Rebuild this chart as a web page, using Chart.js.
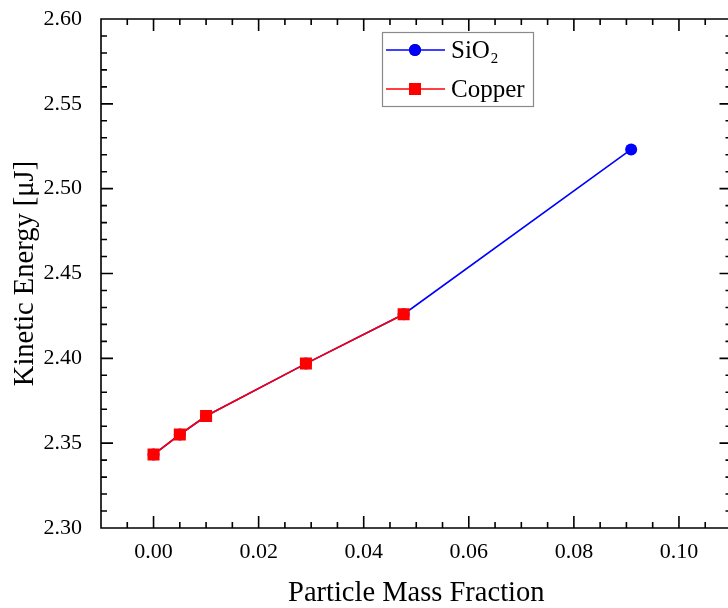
<!DOCTYPE html>
<html>
<head>
<meta charset="utf-8">
<script src="https://cdn.jsdelivr.net/npm/chart.js@4"></script>
<style>
  html, body { margin: 0; padding: 0; background: #fff; overflow: hidden; }
  #wrap { width: 740px; height: 608px; }
</style>
</head>
<body>
<div id="wrap"><canvas id="c" width="740" height="608"></canvas></div>
<script>
// ---- Data ----
const sio2X = [0, 0.005, 0.01, 0.029, 0.0476, 0.0909];
const sio2Y = [2.3433, 2.3551, 2.3660, 2.3969, 2.4260, 2.5231];
const copperX = [0, 0.005, 0.01, 0.029, 0.0476];
const copperY = [2.3433, 2.3551, 2.3660, 2.3969, 2.4260];
const seriesNames = ['SiO\u2082', 'Copper'];
const xTickValues = [0, 0.02, 0.04, 0.06, 0.08, 0.10];
const yTickValues = [2.30, 2.35, 2.40, 2.45, 2.50, 2.55, 2.60];
const xTitle = 'Particle Mass Fraction';
const yTitle = 'Kinetic Energy [\u03bcJ]';

const SERIF = '"Liberation Serif", "Times New Roman", serif';
const BLUE = '#0000ff';
const RED = '#ff0000';

function pts(xs, ys) { return xs.map((x, i) => ({ x: x, y: ys[i] })); }

// Frame, inward ticks (major + minor) on all four sides
const framePlugin = {
  id: 'frame',
  afterDatasetsDraw(chart) {
    const { ctx, chartArea: a, scales } = chart;
    const xs = scales.x, ys = scales.y;
    ctx.save();
    ctx.strokeStyle = '#000';
    ctx.lineWidth = 1.6;
    ctx.beginPath();
    ctx.rect(a.left, a.top, a.right - a.left, a.bottom - a.top);
    ctx.stroke();
    const MAJ = 12, MIN = 6;
    ctx.beginPath();
    for (let k = -2; k <= 22; k++) {
      const v = k * 0.005;
      const px = xs.getPixelForValue(v);
      if (px < a.left + 0.5 || px > a.right - 0.5) continue;
      const len = (k % 4 === 0) ? MAJ : MIN;
      ctx.moveTo(px, a.bottom); ctx.lineTo(px, a.bottom - len);
      ctx.moveTo(px, a.top); ctx.lineTo(px, a.top + len);
    }
    for (let k = 230; k <= 260; k++) {
      const v = k / 100;
      const py = ys.getPixelForValue(v);
      if (py < a.top + 0.5 || py > a.bottom - 0.5) continue;
      const len = (k % 5 === 0) ? MAJ : MIN;
      ctx.moveTo(a.left, py); ctx.lineTo(a.left + len, py);
      ctx.moveTo(a.right, py); ctx.lineTo(a.right - len, py);
    }
    ctx.stroke();
    ctx.restore();
  }
};

// Legend box inside the plot (line + marker samples)
const legendPlugin = {
  id: 'boxLegend',
  afterDraw(chart) {
    const { ctx } = chart;
    const bx = 382, by = 32, bw = 151, bh = 74;
    ctx.save();
    ctx.strokeStyle = '#8a8a8a';
    ctx.lineWidth = 1.2;
    ctx.strokeRect(bx + 0.5, by + 0.5, bw, bh);
    const rows = [50, 89];
    [0, 1].forEach((di, r) => {
      const ds = chart.data.datasets[di];
      const y = rows[r];
      ctx.strokeStyle = ds.borderColor;
      ctx.lineWidth = 1.6;
      ctx.beginPath();
      ctx.moveTo(386, y); ctx.lineTo(445, y);
      ctx.stroke();
      Chart.helpers.drawPoint(ctx, {
        pointStyle: ds.pointStyle, radius: ds.pointRadius, borderWidth: 0, rotation: 0
      }, 415, y);
      ctx.fillStyle = ds.pointBackgroundColor;
      ctx.fill();
      ctx.fillStyle = '#000';
      ctx.font = '25px ' + SERIF;
      ctx.textBaseline = 'middle';
      ctx.textAlign = 'left';
      ctx.fillText(ds.label, 451, y + 1);
    });
    ctx.restore();
  }
};

function noPad(s) { s.paddingTop = 0; s.paddingBottom = 0; s.paddingLeft = 0; s.paddingRight = 0; }

new Chart(document.getElementById('c'), {
  type: 'line',
  data: {
    datasets: [
      {
        label: seriesNames[0],
        data: pts(sio2X, sio2Y),
        borderColor: BLUE,
        backgroundColor: BLUE,
        pointBackgroundColor: BLUE,
        pointBorderColor: BLUE,
        borderWidth: 1.6,
        pointStyle: 'circle',
        pointRadius: 6,
        pointBorderWidth: 0,
        order: 2
      },
      {
        label: seriesNames[1],
        data: pts(copperX, copperY),
        borderColor: RED,
        backgroundColor: RED,
        pointBackgroundColor: RED,
        pointBorderColor: RED,
        borderWidth: 1.6,
        pointStyle: 'rect',
        pointRadius: 8.5,
        pointBorderWidth: 0,
        order: 1
      }
    ]
  },
  options: {
    responsive: false,
    animation: false,
    events: [],
    layout: { padding: { left: 0, top: 19, right: 7, bottom: 0 } },
    plugins: { legend: { display: false }, tooltip: { enabled: false } },
    scales: {
      x: {
        type: 'linear',
        min: -0.01,
        max: 0.11,
        grid: { display: false, drawTicks: false },
        border: { display: false },
        afterBuildTicks: (s) => { s.ticks = xTickValues.map(v => ({ value: v })); },
        afterFit: (s) => { s.height = 80; noPad(s); },
        ticks: {
          padding: 11,
          color: '#000',
          maxRotation: 0,
          font: { family: SERIF, size: 22 },
          callback: (v) => Number(v).toFixed(2)
        },
        title: {
          display: true,
          text: xTitle,
          color: '#000',
          font: { family: SERIF, size: 28.5, lineHeight: 1.0 },
          padding: { top: 0, bottom: 0 }
        }
      },
      y: {
        type: 'linear',
        min: 2.30,
        max: 2.60,
        grid: { display: false, drawTicks: false },
        border: { display: false },
        afterBuildTicks: (s) => { s.ticks = yTickValues.map(v => ({ value: v })); },
        afterFit: (s) => { s.width = 101; noPad(s); },
        ticks: {
          padding: 19,
          color: '#000',
          font: { family: SERIF, size: 22 },
          callback: (v) => Number(v).toFixed(2)
        },
        title: {
          display: true,
          text: yTitle,
          color: '#000',
          font: { family: SERIF, size: 28.5, lineHeight: 1.0 },
          padding: { top: 11, bottom: 0 }
        }
      }
    }
  },
  plugins: [framePlugin, legendPlugin]
});
</script>
</body>
</html>
